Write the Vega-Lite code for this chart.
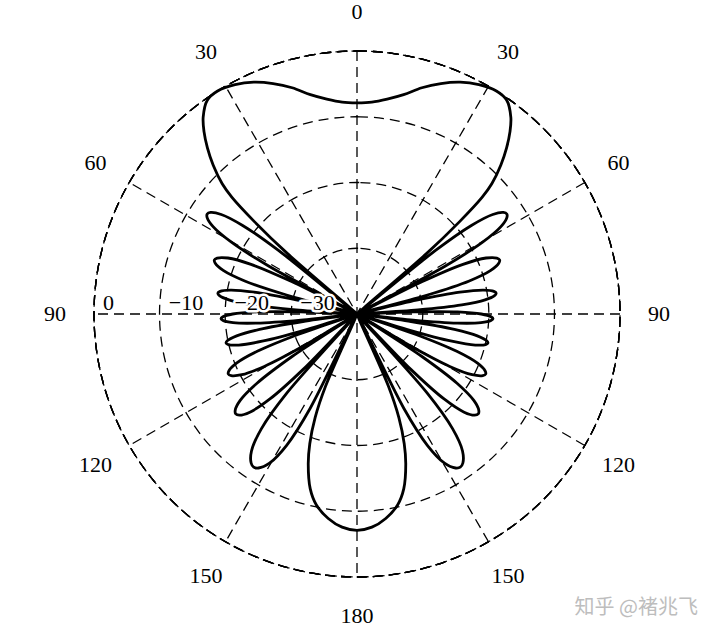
{
  "$schema": "https://vega.github.io/schema/vega-lite/v6.json",
  "width": 526,
  "height": 526,
  "autosize": "none",
  "padding": {"left": 94, "top": 51, "right": 100, "bottom": 62},
  "background": "white",
  "config": {"view": {"stroke": null}},
  "title": {"text": "知乎 @褚兆飞", "orient": "bottom", "anchor": "end", "frame": "group", "font": "Noto Sans CJK SC", "fontSize": 20, "fontWeight": "normal", "color": "#bdbdbd", "offset": -29, "dx": 78},
  "layer": [
    {
      "data": {"values": [{"ring": -30}, {"ring": -20}, {"ring": -10}, {"ring": 0}]},
      "mark": {"type": "arc", "theta": 0, "theta2": 6.3, "fill": "white", "fillOpacity": 0, "stroke": "black", "strokeWidth": 1.3, "strokeDash": [10, 6]},
      "encoding": {
        "radius": {"field": "ring", "type": "quantitative", "stack": false, "scale": {"type": "linear", "domain": [-40, 0], "range": [0, 263], "zero": false}}
      }
    },
    {
      "data": {"values": [{"angle": 0}, {"angle": 30}, {"angle": 60}, {"angle": 90}, {"angle": 120}, {"angle": 150}]},
      "transform": [
        {"calculate": "40*sin(datum.angle*PI/180)", "as": "xs"},
        {"calculate": "40*cos(datum.angle*PI/180)", "as": "ys"},
        {"calculate": "-datum.xs", "as": "xe"},
        {"calculate": "-datum.ys", "as": "ye"}
      ],
      "mark": {"type": "rule", "color": "black", "strokeWidth": 1.3, "strokeDash": [10, 6]},
      "encoding": {
        "x": {"field": "xs", "type": "quantitative", "scale": {"domain": [-40, 40], "nice": false, "zero": false}, "axis": null},
        "y": {"field": "ys", "type": "quantitative", "scale": {"domain": [-40, 40], "nice": false, "zero": false}, "axis": null},
        "x2": {"field": "xe"},
        "y2": {"field": "ye"}
      }
    },
    {
      "data": {"values": [
        {"angle": 0, "db": -7.9}, {"angle": 4, "db": -7.7}, {"angle": 8, "db": -7.0}, {"angle": 12, "db": -5.9}, {"angle": 16, "db": -4.2}, {"angle": 20, "db": -2.7}, {"angle": 24, "db": -1.4}, {"angle": 28, "db": -0.5}, {"angle": 32, "db": 0}, {"angle": 35, "db": -0.3}, {"angle": 38, "db": -2.0}, {"angle": 40, "db": -3.8}, {"angle": 42, "db": -6.0}, {"angle": 44, "db": -8.5}, {"angle": 46, "db": -11.5}, {"angle": 47, "db": -14}, {"angle": 48, "db": -19}, {"angle": 49, "db": -26}, {"angle": 50, "db": -40},
        {"angle": 51, "db": -24.7}, {"angle": 52.25, "db": -18}, {"angle": 53.75, "db": -14.4}, {"angle": 55.25, "db": -12.9}, {"angle": 56.25, "db": -12.6}, {"angle": 57.25, "db": -12.9}, {"angle": 58.75, "db": -14.4}, {"angle": 60.25, "db": -18}, {"angle": 61.5, "db": -24.7}, {"angle": 62.5, "db": -40},
        {"angle": 63.6, "db": -28.9}, {"angle": 64.9, "db": -22.2}, {"angle": 66.55, "db": -18.6}, {"angle": 68.2, "db": -17.1}, {"angle": 69.25, "db": -16.8}, {"angle": 70.3, "db": -17.1}, {"angle": 71.95, "db": -18.6}, {"angle": 73.6, "db": -22.2}, {"angle": 74.9, "db": -28.9}, {"angle": 76, "db": -40},
        {"angle": 76.9, "db": -30.7}, {"angle": 78, "db": -24}, {"angle": 79.3, "db": -20.4}, {"angle": 80.6, "db": -18.9}, {"angle": 81.5, "db": -18.6}, {"angle": 82.4, "db": -18.9}, {"angle": 83.7, "db": -20.4}, {"angle": 85, "db": -24}, {"angle": 86.1, "db": -30.7}, {"angle": 87, "db": -40},
        {"angle": 87.8, "db": -31.4}, {"angle": 88.8, "db": -24.7}, {"angle": 90, "db": -21.1}, {"angle": 91.2, "db": -19.6}, {"angle": 92, "db": -19.3}, {"angle": 92.8, "db": -19.6}, {"angle": 94, "db": -21.1}, {"angle": 95.2, "db": -24.7}, {"angle": 96.2, "db": -31.4}, {"angle": 97, "db": -40},
        {"angle": 97.9, "db": -31.7}, {"angle": 99, "db": -25}, {"angle": 100.3, "db": -21.4}, {"angle": 101.6, "db": -19.9}, {"angle": 102.5, "db": -19.6}, {"angle": 103.4, "db": -19.9}, {"angle": 104.7, "db": -21.4}, {"angle": 106, "db": -25}, {"angle": 107.1, "db": -31.7}, {"angle": 108, "db": -40},
        {"angle": 109.1, "db": -30.5}, {"angle": 110.5, "db": -23.8}, {"angle": 112.2, "db": -20.2}, {"angle": 113.9, "db": -18.7}, {"angle": 115, "db": -18.4}, {"angle": 116.1, "db": -18.7}, {"angle": 117.8, "db": -20.2}, {"angle": 119.5, "db": -23.8}, {"angle": 120.9, "db": -30.5}, {"angle": 122, "db": -40},
        {"angle": 123.2, "db": -28.2}, {"angle": 124.7, "db": -21.5}, {"angle": 126.5, "db": -17.9}, {"angle": 128.3, "db": -16.4}, {"angle": 129.5, "db": -16.1}, {"angle": 130.7, "db": -16.4}, {"angle": 132.5, "db": -17.9}, {"angle": 134.3, "db": -21.5}, {"angle": 135.8, "db": -28.2}, {"angle": 137, "db": -40},
        {"angle": 138.4, "db": -24}, {"angle": 140.2, "db": -17.3}, {"angle": 142.4, "db": -13.7}, {"angle": 144.6, "db": -12.2}, {"angle": 146, "db": -11.9}, {"angle": 147.4, "db": -12.2}, {"angle": 149.6, "db": -13.7}, {"angle": 151.8, "db": -17.3}, {"angle": 153.6, "db": -24}, {"angle": 155, "db": -40},
        {"angle": 156.5, "db": -28}, {"angle": 158, "db": -23}, {"angle": 160, "db": -19}, {"angle": 162, "db": -16}, {"angle": 165, "db": -12.5}, {"angle": 168, "db": -10.3}, {"angle": 172, "db": -8.6}, {"angle": 176, "db": -7.5}, {"angle": 180, "db": -7.1},
        {"angle": 184, "db": -7.5}, {"angle": 188, "db": -8.6}, {"angle": 192, "db": -10.3}, {"angle": 195, "db": -12.5}, {"angle": 198, "db": -16}, {"angle": 200, "db": -19}, {"angle": 202, "db": -23}, {"angle": 203.5, "db": -28}, {"angle": 205, "db": -40},
        {"angle": 206.4, "db": -24}, {"angle": 208.2, "db": -17.3}, {"angle": 210.4, "db": -13.7}, {"angle": 212.6, "db": -12.2}, {"angle": 214, "db": -11.9}, {"angle": 215.4, "db": -12.2}, {"angle": 217.6, "db": -13.7}, {"angle": 219.8, "db": -17.3}, {"angle": 221.6, "db": -24}, {"angle": 223, "db": -40},
        {"angle": 224.2, "db": -28.2}, {"angle": 225.7, "db": -21.5}, {"angle": 227.5, "db": -17.9}, {"angle": 229.3, "db": -16.4}, {"angle": 230.5, "db": -16.1}, {"angle": 231.7, "db": -16.4}, {"angle": 233.5, "db": -17.9}, {"angle": 235.3, "db": -21.5}, {"angle": 236.8, "db": -28.2}, {"angle": 238, "db": -40},
        {"angle": 239.1, "db": -30.5}, {"angle": 240.5, "db": -23.8}, {"angle": 242.2, "db": -20.2}, {"angle": 243.9, "db": -18.7}, {"angle": 245, "db": -18.4}, {"angle": 246.1, "db": -18.7}, {"angle": 247.8, "db": -20.2}, {"angle": 249.5, "db": -23.8}, {"angle": 250.9, "db": -30.5}, {"angle": 252, "db": -40},
        {"angle": 252.9, "db": -31.7}, {"angle": 254, "db": -25}, {"angle": 255.3, "db": -21.4}, {"angle": 256.6, "db": -19.9}, {"angle": 257.5, "db": -19.6}, {"angle": 258.4, "db": -19.9}, {"angle": 259.7, "db": -21.4}, {"angle": 261, "db": -25}, {"angle": 262.1, "db": -31.7}, {"angle": 263, "db": -40},
        {"angle": 263.8, "db": -31.4}, {"angle": 264.8, "db": -24.7}, {"angle": 266, "db": -21.1}, {"angle": 267.2, "db": -19.6}, {"angle": 268, "db": -19.3}, {"angle": 268.8, "db": -19.6}, {"angle": 270, "db": -21.1}, {"angle": 271.2, "db": -24.7}, {"angle": 272.2, "db": -31.4}, {"angle": 273, "db": -40},
        {"angle": 273.9, "db": -30.7}, {"angle": 275, "db": -24}, {"angle": 276.3, "db": -20.4}, {"angle": 277.6, "db": -18.9}, {"angle": 278.5, "db": -18.6}, {"angle": 279.4, "db": -18.9}, {"angle": 280.7, "db": -20.4}, {"angle": 282, "db": -24}, {"angle": 283.1, "db": -30.7}, {"angle": 284, "db": -40},
        {"angle": 285.1, "db": -28.9}, {"angle": 286.4, "db": -22.2}, {"angle": 288.05, "db": -18.6}, {"angle": 289.7, "db": -17.1}, {"angle": 290.75, "db": -16.8}, {"angle": 291.8, "db": -17.1}, {"angle": 293.45, "db": -18.6}, {"angle": 295.1, "db": -22.2}, {"angle": 296.4, "db": -28.9}, {"angle": 297.5, "db": -40},
        {"angle": 298.5, "db": -24.7}, {"angle": 299.75, "db": -18}, {"angle": 301.25, "db": -14.4}, {"angle": 302.75, "db": -12.9}, {"angle": 303.75, "db": -12.6}, {"angle": 304.75, "db": -12.9}, {"angle": 306.25, "db": -14.4}, {"angle": 307.75, "db": -18}, {"angle": 309, "db": -24.7}, {"angle": 310, "db": -40},
        {"angle": 311, "db": -26}, {"angle": 312, "db": -19}, {"angle": 313, "db": -14}, {"angle": 314, "db": -11.5}, {"angle": 316, "db": -8.5}, {"angle": 318, "db": -6.0}, {"angle": 320, "db": -3.8}, {"angle": 322, "db": -2.0}, {"angle": 325, "db": -0.3}, {"angle": 328, "db": 0}, {"angle": 332, "db": -0.5}, {"angle": 336, "db": -1.4}, {"angle": 340, "db": -2.7}, {"angle": 344, "db": -4.2}, {"angle": 348, "db": -5.9}, {"angle": 352, "db": -7.0}, {"angle": 356, "db": -7.7}, {"angle": 360, "db": -7.9}
      ]},
      "transform": [
        {"calculate": "(datum.db+40)*sin(datum.angle*PI/180)", "as": "px"},
        {"calculate": "(datum.db+40)*cos(datum.angle*PI/180)", "as": "py"}
      ],
      "mark": {"type": "line", "color": "black", "strokeWidth": 2.8, "interpolate": "catmull-rom"},
      "encoding": {
        "x": {"field": "px", "type": "quantitative", "scale": {"domain": [-40, 40], "nice": false, "zero": false}, "axis": null},
        "y": {"field": "py", "type": "quantitative", "scale": {"domain": [-40, 40], "nice": false, "zero": false}, "axis": null},
        "order": {"field": "angle", "type": "quantitative"}
      }
    },
    {
      "data": {"values": [
        {"angle": 0, "label": "0"}, {"angle": 30, "label": "30"}, {"angle": 60, "label": "60"}, {"angle": 90, "label": "90"}, {"angle": 120, "label": "120"}, {"angle": 150, "label": "150"},
        {"angle": 180, "label": "180"}, {"angle": 210, "label": "150"}, {"angle": 240, "label": "120"}, {"angle": 270, "label": "90"}, {"angle": 300, "label": "60"}, {"angle": 330, "label": "30"}
      ]},
      "mark": {"type": "text", "radius": 302, "font": "Liberation Serif", "fontSize": 22, "align": "center", "baseline": "middle", "color": "black"},
      "encoding": {
        "theta": {"field": "angle", "type": "quantitative", "stack": false, "scale": {"type": "linear", "domain": [0, 360], "range": [0, 6.283185307], "zero": false}},
        "text": {"field": "label"}
      }
    },
    {
      "data": {"values": [{"ring": 0, "label": "0"}, {"ring": -10, "label": "−10"}, {"ring": -20, "label": "−20"}, {"ring": -30, "label": "−30"}]},
      "layer": [
        {
          "mark": {"type": "text", "theta": 4.712389, "font": "Liberation Serif", "fontSize": 22, "align": "left", "baseline": "alphabetic", "dx": 9, "dy": -4, "color": "white", "stroke": "white", "strokeWidth": 5, "strokeJoin": "round"}
        },
        {
          "mark": {"type": "text", "theta": 4.712389, "font": "Liberation Serif", "fontSize": 22, "align": "left", "baseline": "alphabetic", "dx": 9, "dy": -4, "color": "black"}
        }
      ],
      "encoding": {
        "radius": {"field": "ring", "type": "quantitative", "stack": false, "scale": {"type": "linear", "domain": [-40, 0], "range": [0, 263], "zero": false}},
        "text": {"field": "label"}
      }
    }
  ]
}
